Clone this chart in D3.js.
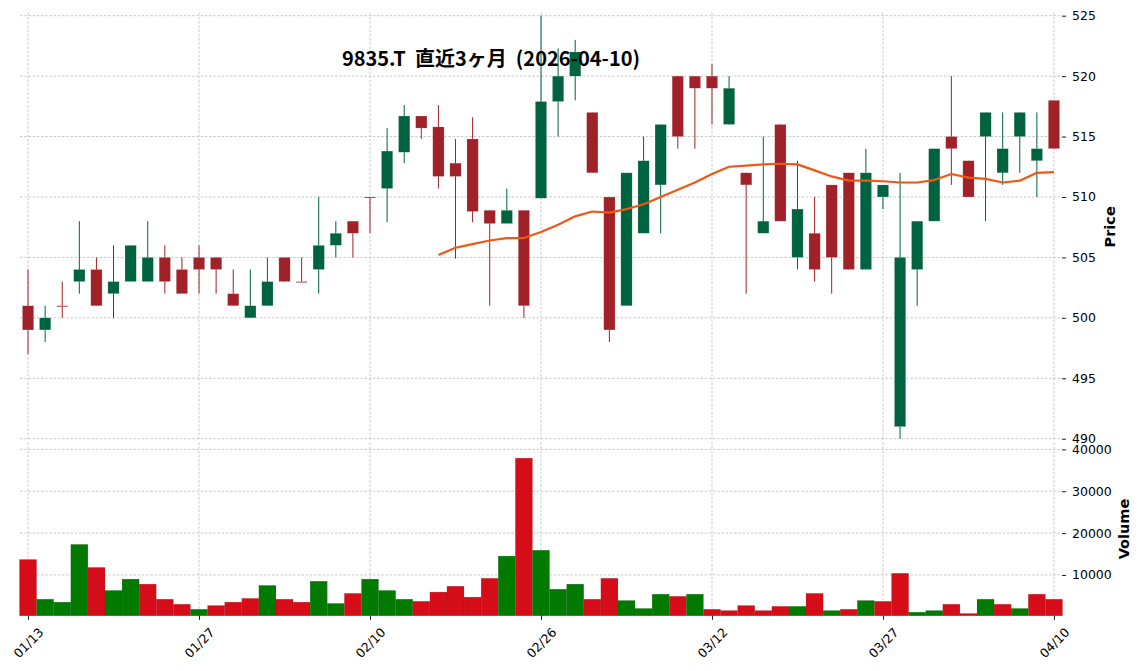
<!DOCTYPE html>
<html><head><meta charset="utf-8">
<script src="https://cdn.jsdelivr.net/npm/d3@7"></script>
<style>
html,body{margin:0;padding:0;background:#fff;}
svg{display:block;}
.tick text{font-family:"DejaVu Sans",sans-serif;font-size:12.5px;fill:#000;}
</style></head>
<body>
<svg id="chart" width="1144" height="671"></svg>
<script>
const dates = ["01/13","01/14","01/15","01/16","01/19","01/20","01/21","01/22","01/23","01/26",
"01/27","01/28","01/29","01/30","02/02","02/03","02/04","02/05","02/06","02/09",
"02/10","02/12","02/13","02/16","02/17","02/18","02/19","02/20","02/24","02/25",
"02/26","02/27","03/02","03/03","03/04","03/05","03/06","03/09","03/10","03/11",
"03/12","03/13","03/16","03/17","03/18","03/19","03/23","03/24","03/25","03/26",
"03/27","03/30","03/31","04/01","04/02","04/03","04/06","04/07","04/08","04/09","04/10"];

const opens = [501,499,501,503,504,502,503,503,505,504,
505,505,502,500,501,505,503,504,506,508,
510,510.7,513.7,516.7,515.8,512.8,514.8,508.9,507.8,508.9,
509.9,517.9,520,517,510,501,507,511,520,520,
520,516,512,507,516,505,507,511,512,504,
510,491,504,508,515,513,515,512,515,513,518];
const highs = [504,501,503,508,505,506,506,508,506,505,
506,505,504,504,505,505,505,510,508,508,
510,515.7,517.6,516.7,517.6,514.8,516.6,508.9,510.7,508.9,
525,522.3,523,517,510,512,515,516,520,520,
521,520,512,515,516,513,510,511,512,514,
511,512,508,514,520,513,517,517,517,517,518];
const lows = [497,498,500,502,501,500,503,503,502,502,
502,502,501,500,501,503,503,502,505,505,
507,507.9,512.8,514.8,510.7,504.9,507.9,501,507.8,500,
509.9,515,518,512,498,501,507,507,514,514,
516,516,502,507,508,504,503,502,504,504,
509,490,501,508,511,510,508,511,512,510,514];
const closes = [499,500,501,504,501,503,506,505,503,502,
504,504,501,501,503,503,503,506,507,507,
510,513.8,516.7,515.7,511.7,511.7,508.8,507.8,508.9,501,
517.9,520,522,512,499,512,513,516,515,519,
519,519,511,508,508,509,504,505,504,512,
511,505,508,514,514,510,517,514,517,514,514];
const volumes = [13700,4200,3500,17300,11800,6300,9000,7800,4200,3000,
1800,2700,3500,4400,7500,4200,3500,8500,3200,5600,
9000,6300,4200,3700,5900,7300,4700,9200,14500,37900,
15900,6600,7800,4200,9200,3900,2000,5400,4900,5400,
1800,1500,2700,1500,2500,2500,5600,1500,1800,3900,
3700,10400,1100,1500,3000,800,4200,3000,2000,5400,4200];
// 25-day moving average (starts at index 24)
const maStart = 24;
const ma25 = [505.2,505.8,506.1,506.4,506.6,506.6,507.1,507.7,508.4,508.8,
508.7,509.0,509.4,510.0,510.6,511.2,511.9,512.5,512.6,512.7,
512.75,512.7,512.2,511.7,511.35,511.35,511.3,511.2,511.2,511.4,
511.9,511.6,511.5,511.2,511.35,512.0,512.05];

const priceTicks = [490,495,500,505,510,515,520,525];
const volTicks = [10000,20000,30000,40000];
const dateTickIdx = [0,10,20,30,40,50,60];
const titleText = "9835.T  直近3ヶ月  (2026-04-10)";

const C = {up:"#006340", down:"#A02128", vup:"#007a00", vdown:"#d50d18", ma:"#ef5714", grid:"#bdbdbd"};

const svg = d3.select("#chart");
const L = 20, R = 1062;
const P = {top:12.7, bottom:441};
const V = {top:442.3, bottom:615.8};
const n = dates.length;

const x = d3.scaleLinear().domain([-0.47, n - 1 + 0.47]).range([L, R]);
const step = x(1) - x(0);
const yP = d3.scaleLinear().domain([490, 525]).range([438.7, 15.7]);
const volMin = 0.3 * d3.min(volumes), volMax = 1.1 * d3.max(volumes);
const yV = d3.scaleLinear().domain([volMin, volMax]).range([V.bottom, V.top]);

// grids
const g = svg.append("g").attr("stroke", C.grid).attr("stroke-width", 0.8).attr("stroke-dasharray", "2.6,1.6");
priceTicks.forEach(t => g.append("line").attr("x1", L).attr("x2", R).attr("y1", yP(t)).attr("y2", yP(t)));
volTicks.forEach(t => g.append("line").attr("x1", L).attr("x2", R).attr("y1", yV(t)).attr("y2", yV(t)));
dateTickIdx.forEach(i => {
  g.append("line").attr("x1", x(i)).attr("x2", x(i)).attr("y1", P.top).attr("y2", P.bottom);
  g.append("line").attr("x1", x(i)).attr("x2", x(i)).attr("y1", V.top).attr("y2", V.bottom);
});

// candles
const idx = d3.range(n);
const bw = 11.3;
const cg = svg.append("g");
cg.selectAll("line.wick").data(idx).join("line")
  .attr("x1", i => x(i)).attr("x2", i => x(i))
  .attr("y1", i => yP(highs[i])).attr("y2", i => yP(lows[i]))
  .attr("stroke", i => closes[i] > opens[i] ? C.up : C.down).attr("stroke-width", 1);
cg.selectAll("rect.body").data(idx).join("rect")
  .attr("x", i => x(i) - bw/2).attr("width", bw)
  .attr("y", i => yP(Math.max(opens[i], closes[i])))
  .attr("height", i => Math.max(1, Math.abs(yP(opens[i]) - yP(closes[i]))))
  .attr("fill", i => closes[i] > opens[i] ? C.up : C.down)
  .attr("stroke", "rgba(255,255,255,0.35)").attr("stroke-width", 0.5);

// moving average
const maLine = d3.line().x((d, k) => x(maStart + k)).y(d => yP(d));
svg.append("path").attr("d", maLine(ma25)).attr("fill", "none")
  .attr("stroke", C.ma).attr("stroke-width", 2.2).attr("stroke-linejoin", "round");

// volume
const vg = svg.append("g");
vg.selectAll("rect").data(idx).join("rect")
  .attr("x", i => x(i) - step/2).attr("width", step)
  .attr("y", i => yV(volumes[i])).attr("height", i => V.bottom - yV(volumes[i]))
  .attr("fill", i => (i === 0 ? closes[i] > opens[i] : closes[i] > closes[i-1]) ? C.vup : C.vdown)
  .attr("stroke", "rgba(0,0,0,0.12)").attr("stroke-width", 0.6);

// axes
const ayP = svg.append("g").attr("transform", `translate(${R},0)`)
  .call(d3.axisRight(yP).tickValues(priceTicks).tickSize(4).tickPadding(6).tickFormat(d3.format("d")));
const ayV = svg.append("g").attr("transform", `translate(${R},0)`)
  .call(d3.axisRight(yV).tickValues(volTicks).tickSize(4).tickPadding(6).tickFormat(d3.format("d")));
const ax = svg.append("g").attr("transform", `translate(0,${V.bottom})`)
  .call(d3.axisBottom(x).tickValues(dateTickIdx).tickSize(4).tickPadding(6).tickFormat(i => dates[i]));
[ayP, ayV, ax].forEach(a => { a.select(".domain").remove(); a.selectAll(".tick line").attr("stroke", "#000").attr("stroke-width", 0.9); });
ax.selectAll(".tick text")
  .attr("y", 0).attr("dy", null)
  .attr("text-anchor", "middle").attr("dominant-baseline", "central")
  .attr("transform", "translate(0,27) rotate(-45)");

// labels
svg.append("text").attr("transform", `translate(1110,${(P.top + P.bottom)/2}) rotate(-90)`)
  .attr("text-anchor", "middle").attr("dominant-baseline", "central")
  .style("font-family", "'DejaVu Sans',sans-serif").style("font-weight", "bold").style("font-size", "14.5px")
  .text("Price");
svg.append("text").attr("transform", `translate(1124,${(V.top + V.bottom)/2}) rotate(-90)`)
  .attr("text-anchor", "middle").attr("dominant-baseline", "central")
  .style("font-family", "'DejaVu Sans',sans-serif").style("font-weight", "bold").style("font-size", "14.5px")
  .text("Volume");

// title
svg.append("text").attr("x", 491).attr("y", 57)
  .attr("text-anchor", "middle").attr("dominant-baseline", "central")
  .style("font-family", "'Noto Sans CJK JP',sans-serif").style("font-weight", "bold").style("font-size", "20px")
  .style("white-space", "pre")
  .text(titleText);
</script>
</body></html>
